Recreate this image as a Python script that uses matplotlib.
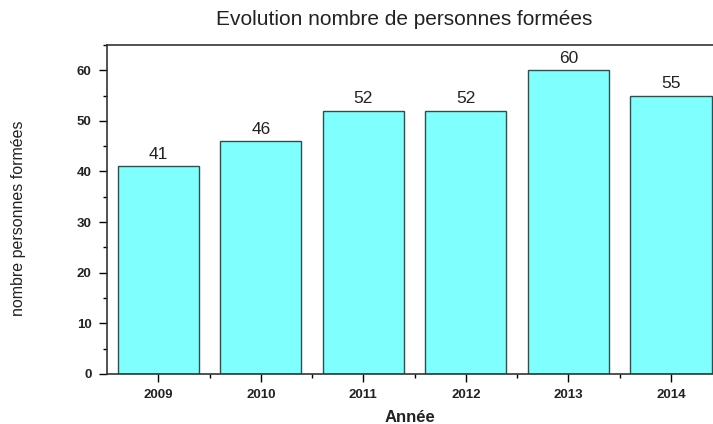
import matplotlib
matplotlib.use('Agg')
import matplotlib.pyplot as plt
from matplotlib.ticker import MultipleLocator, FixedLocator

# data
years = [2009, 2010, 2011, 2012, 2013, 2014]
trained = [41, 46, 52, 52, 60, 55]

plt.rcParams['font.family'] = ['Liberation Sans', 'DejaVu Sans']

fig = plt.figure(figsize=(7.13, 4.24), dpi=100)
# axes runs past the right edge of the picture, like the original
ax = fig.add_axes([0.150, 0.118, 0.863, 0.776])

ax.bar(years, trained, width=0.79, color='#80FFFF',
       edgecolor='#2F4F4F', linewidth=1.0)
for x, v in zip(years, trained):
    ax.text(x, v + 0.9, str(v), ha='center', va='bottom',
            fontsize=12.5, color='#222222')

ax.set_xlim(2008.5, 2014.5)
ax.set_ylim(0, 65)
ax.set_xticks(years)
ax.xaxis.set_minor_locator(FixedLocator([y + 0.5 for y in years[:-1]]))
ax.yaxis.set_major_locator(MultipleLocator(10))
ax.yaxis.set_minor_locator(MultipleLocator(5))
ax.tick_params(which='major', direction='out', length=6, width=1,
               labelsize=9.5, pad=5)
ax.tick_params(which='minor', direction='out', length=3, width=1)
for lbl in ax.get_xticklabels() + ax.get_yticklabels():
    lbl.set_fontweight('bold')
    lbl.set_color('#222222')
for s in ax.spines.values():
    s.set_linewidth(1.2)
    s.set_color('#333333')

ax.set_xlabel('Année', fontsize=12, fontweight='bold', color='#222222')
ax.xaxis.set_label_coords(0.493, -0.108)
ax.set_ylabel('nombre personnes formées', fontsize=11.5, color='#222222')
ax.yaxis.set_label_coords(-0.132, 0.474)
fig.text(0.567, 0.955, 'Evolution nombre de personnes formées',
         ha='center', va='center', fontsize=15, color='#222222')

fig.savefig('out.png', dpi=100)
